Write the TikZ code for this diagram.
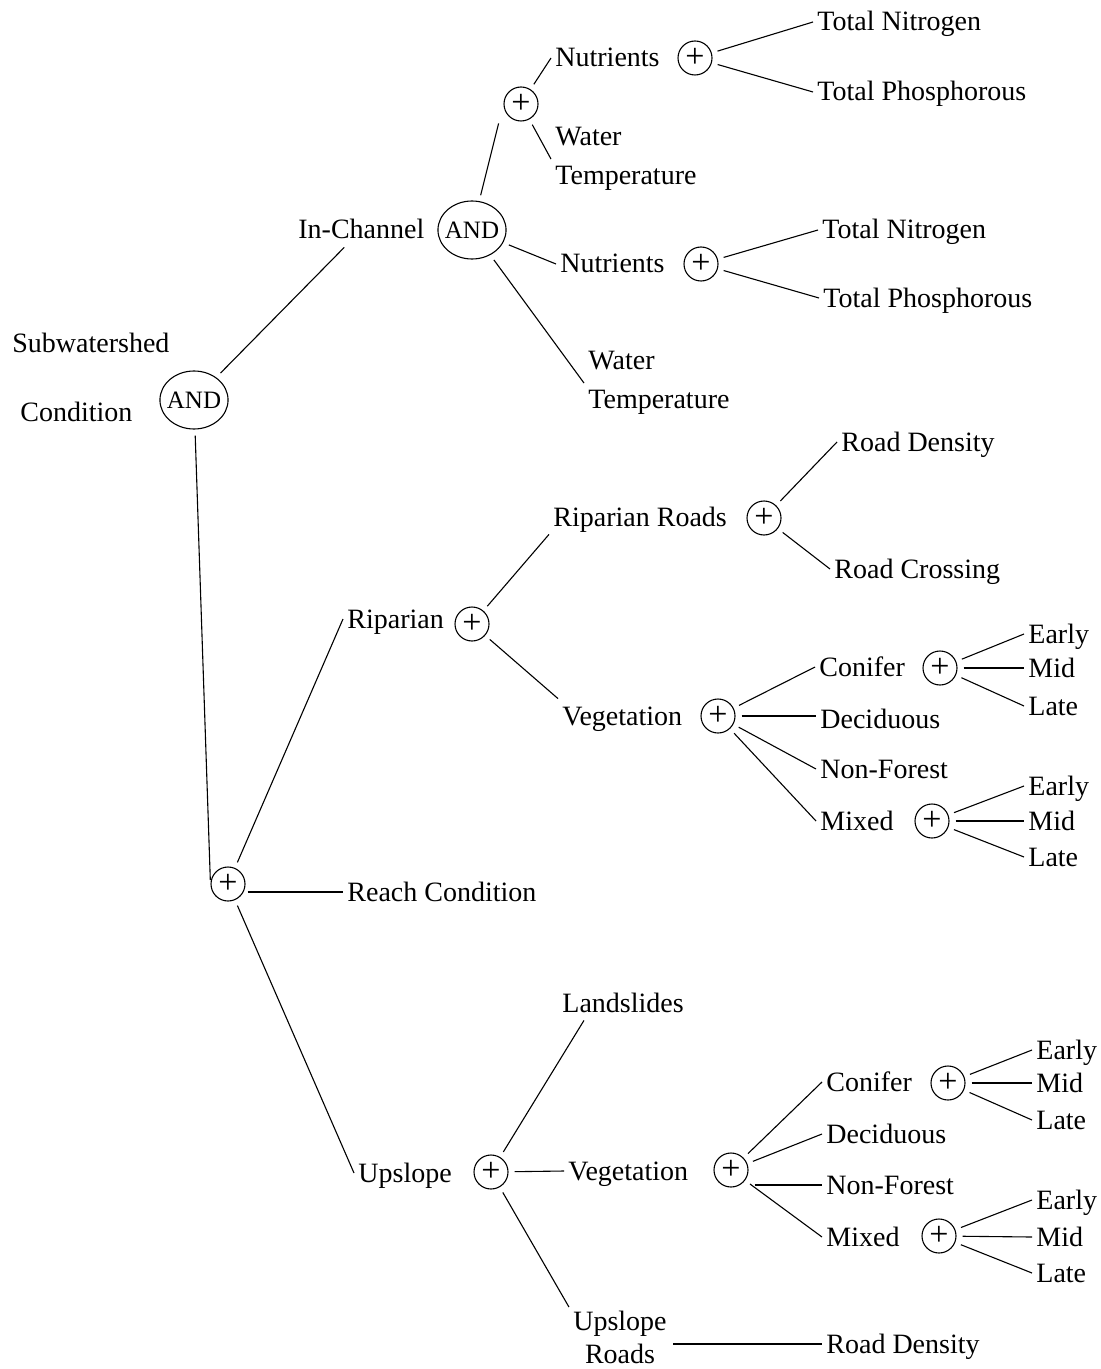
\documentclass[tikz,border=0pt]{standalone}
\usepackage{fontspec}
\setmainfont{Liberation Serif}
\usetikzlibrary{shapes.geometric}
\tikzset{
	% text labels
	lbl/.style={anchor=west,xshift=-2pt,inner sep=2pt,font=\fontsize{14}{19.5}\selectfont,text height=11pt,text depth=2pt},
	twoline/.style={inner sep=2pt,font=\fontsize{14}{19.5}\selectfont},
	% gates
	orgate/.style={circle,draw,line width=0.55pt,minimum size=17pt,inner sep=0pt,font=\fontsize{17}{17}\selectfont},
	andgate/.style={ellipse,draw,line width=0.55pt,minimum width=33pt,minimum height=29pt,inner xsep=-1.5pt,inner ysep=0pt,font=\fontsize{12.5}{13}\selectfont},
	% connectors
	link/.style={line width=0.55pt,shorten <=3pt},
}

\begin{document}
\begin{tikzpicture}[x=0.5pt,y=-0.5pt]
\useasboundingbox (0,0) rectangle (1100,1369);
% the root
\node[lbl] (subw) at (12,343) {Subwatershed};
\node[lbl] (cond) at (20,412) {Condition};
\node[andgate] (root) at (194,400) {AND};
% in-channel branch
\node[lbl] (inch) at (298,230) {In-Channel};
\node[andgate] (andch) at (472,230) {AND};
\node[orgate] (plusA) at (521,104) {+};
\node[lbl] (nutA) at (555,58) {Nutrients};
\node[orgate] (ornutA) at (695,58) {+};
\node[lbl] (tnA) at (817,22) {Total Nitrogen};
\node[lbl] (tpA) at (817,92) {Total Phosphorous};
\node[twoline,anchor=north west,align=left] (wtA) at (551,123) {Water\\Temperature};
\node[lbl] (nutB) at (560,264) {Nutrients};
\node[orgate] (ornutB) at (701,264) {+};
\node[lbl] (tnB) at (822,230) {Total Nitrogen};
\node[lbl] (tpB) at (823,298) {Total Phosphorous};
\node[twoline,anchor=north west,align=left] (wtB) at (584,347) {Water\\Temperature};
% reach branch
\node[orgate] (mainor) at (228,884) {+};
\node[lbl] (reach) at (347,892) {Reach Condition};
% riparian
\node[lbl] (rip) at (347,619) {Riparian};
\node[orgate] (orrip) at (472,624) {+};
\node[lbl] (rroads) at (553,517) {Riparian Roads};
\node[orgate] (orroads) at (764,518) {+};
\node[lbl] (rdens) at (841,442) {Road Density};
\node[lbl] (rcross) at (834,569) {Road Crossing};
\node[lbl] (vegA) at (562,716) {Vegetation};
\node[orgate] (orvegA) at (718,716) {+};
\node[lbl] (conA) at (819,667) {Conifer};
\node[orgate] (orconA) at (940,668) {+};
\node[lbl] (earlyA) at (1028,634) {Early};
\node[lbl] (midA) at (1028,668) {Mid};
\node[lbl] (lateA) at (1028,706) {Late};
\node[lbl] (decA) at (820,719) {Deciduous};
\node[lbl] (nonfA) at (820,769) {Non-Forest};
\node[lbl] (mixA) at (820,821) {Mixed};
\node[orgate] (ormixA) at (932,821) {+};
\node[lbl] (earlyB) at (1028,786) {Early};
\node[lbl] (midB) at (1028,821) {Mid};
\node[lbl] (lateB) at (1028,857) {Late};
% upslope
\node[lbl] (ups) at (358,1173) {Upslope};
\node[orgate] (orups) at (491,1172) {+};
\node[lbl] (lands) at (562,1003) {Landslides};
\node[lbl] (vegB) at (568,1171) {Vegetation};
\node[orgate] (orvegB) at (731,1170) {+};
\node[lbl] (conB) at (826,1082) {Conifer};
\node[orgate] (orconB) at (948,1083) {+};
\node[lbl] (earlyC) at (1036,1050) {Early};
\node[lbl] (midC) at (1036,1083) {Mid};
\node[lbl] (lateC) at (1036,1120) {Late};
\node[lbl] (decB) at (826,1134) {Deciduous};
\node[lbl] (nonfB) at (826,1185) {Non-Forest};
\node[lbl] (mixB) at (826,1237) {Mixed};
\node[orgate] (ormixB) at (939,1236) {+};
\node[lbl] (earlyD) at (1036,1200) {Early};
\node[lbl] (midD) at (1036,1237) {Mid};
\node[lbl] (lateD) at (1036,1273) {Late};
\node[twoline,font=\fontsize{14}{16.5}\selectfont,anchor=north,align=center] (uproads) at (620,1307) {Upslope\\Roads};
\node[lbl] (rdensB) at (826,1344) {Road Density};
% the connectors
\draw[link] (root) -- (inch);
\draw[link,shorten >=2pt] (root) -- (mainor.west);
\draw[link,shorten >=10pt] (andch) -- (plusA.west);
\draw[link] (plusA) -- (nutA.west);
\draw[link] (plusA) -- (wtA.west);
\foreach \t in {tnA,tpA}
  \draw[link] (ornutA) -- (\t.west);
\draw[link] (andch) -- (nutB.west);
\draw[link] (andch) -- (wtB.west);
\foreach \t in {tnB,tpB}
  \draw[link] (ornutB) -- (\t.west);
\draw[link] (mainor) -- (rip.west);
\draw[link,shorten <=1pt] (mainor.east |- reach.west) -- (reach.west);
\draw[link] (mainor) -- (ups.west);
\draw[link] (orrip) -- (rroads.south west);
\draw[link] (orrip) -- (vegA.north west);
\foreach \t in {rdens,rcross}
  \draw[link] (orroads) -- (\t.west);
\foreach \t in {conA,nonfA,mixA}
  \draw[link] (orvegA) -- (\t.west);
\draw[link] (orvegA) -- (orvegA -| decA.west);
\foreach \t in {earlyA,midA,lateA}
  \draw[link] (orconA) -- (\t.west);
\foreach \t in {earlyB,midB,lateB}
  \draw[link] (ormixA) -- (\t.west);
\draw[link] (orups) -- (lands.204);
\draw[link] (orups) -- (vegB.west);
\draw[link] (orups) -- (uproads.north west);
\foreach \t in {conB,decB,mixB}
  \draw[link] (orvegB) -- (\t.west);
\draw[link] (orvegB.east |- nonfB.west) -- (nonfB.west);
\foreach \t in {earlyC,midC,lateC}
  \draw[link] (orconB) -- (\t.west);
\foreach \t in {earlyD,midD,lateD}
  \draw[link] (ormixB) -- (\t.west);
\draw[link,shorten <=1pt] (rdensB.west -| uproads.east) -- (rdensB.west);
\end{tikzpicture}
\end{document}
